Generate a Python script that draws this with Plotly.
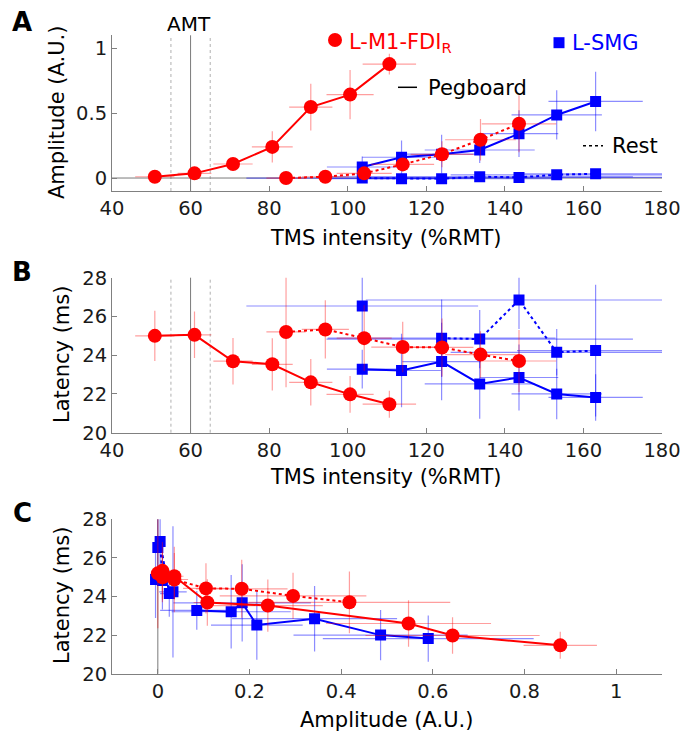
import plotly.graph_objects as go

# ---------------- data ----------------
# L-M1-FDI_R, Pegboard (solid red)
m1_peg_int = [50.9, 61.0, 70.8, 80.8, 90.6, 100.6, 110.6]
m1_peg_int_err = [5.0, 4.3, 5.0, 5.2, 5.5, 6.0, 6.8]
m1_peg_amp = [0.01, 0.036, 0.108, 0.24, 0.547, 0.643, 0.878]
m1_peg_amp_err = [0.02, 0.02, 0.03, 0.12, 0.18, 0.19, 0.08]
m1_peg_lat = [25.0, 25.05, 23.69, 23.53, 22.6, 21.98, 21.47]
m1_peg_lat_err = [1.3, 1.2, 1.2, 1.35, 1.2, 0.95, 0.7]

# L-M1-FDI_R, Rest (dotted red)
m1_rest_int = [84.3, 94.3, 104.2, 114.0, 124.0, 133.8, 143.6]
m1_rest_int_err = [5.0, 6.0, 7.0, 8.0, 8.0, 9.0, 9.5]
m1_rest_amp = [0.0, 0.01, 0.036, 0.105, 0.183, 0.295, 0.418]
m1_rest_amp_err = [0.005, 0.01, 0.03, 0.05, 0.1, 0.16, 0.22]
m1_rest_lat = [25.2, 25.33, 24.88, 24.42, 24.4, 24.03, 23.7]
m1_rest_lat_err = [2.85, 1.5, 1.7, 1.3, 1.5, 1.2, 1.6]

# L-SMG, Pegboard (solid blue)
smg_peg_int = [103.7, 113.7, 123.9, 133.6, 143.6, 153.2, 163.1]
smg_peg_int_err = [9.0, 10.0, 10.0, 14.0, 10.0, 11.5, 12.0]
smg_peg_amp = [0.085, 0.16, 0.184, 0.216, 0.342, 0.486, 0.59]
smg_peg_amp_err = [0.08, 0.13, 0.15, 0.1, 0.18, 0.19, 0.23]
smg_peg_lat = [23.28, 23.21, 23.67, 22.52, 22.85, 22.0, 21.82]
smg_peg_lat_err = [1.0, 1.9, 2.0, 1.8, 1.7, 1.3, 1.2]

# L-SMG, Rest (dotted blue)
smg_rest_int = [103.7, 113.7, 123.9, 133.6, 143.6, 153.2, 163.1]
smg_rest_int_err = [29.5, 10.0, 29.0, 39.0, 39.0, 27.0, 20.0]
smg_rest_amp = [0.0, -0.005, -0.005, 0.01, 0.005, 0.025, 0.033]
smg_rest_amp_err = [0.01, 0.005, 0.005, 0.01, 0.01, 0.02, 0.03]
smg_rest_lat = [26.54, None, 24.88, 24.83, 26.85, 24.15, 24.24]
smg_rest_lat_err = [1.5, 0.0, 2.0, 1.5, 1.5, 1.2, 3.4]

amt_line = 60
amt_band = [55, 65]

x_ticks_int = [40, 60, 80, 100, 120, 140, 160, 180]
y_ticks_amp = [0, 0.5, 1]
y_ticks_amp_text = ["0", "0.5", "1"]
y_ticks_lat = [20, 22, 24, 26, 28]
x_ticks_amp = [0, 0.2, 0.4, 0.6, 0.8, 1]
x_ticks_amp_text = ["0", "0.2", "0.4", "0.6", "0.8", "1"]

# ---------------- figure ----------------
W, H = 683, 736
FONT = "DejaVu Sans"
RED, BLUE = "#ff0000", "#0000ff"
RED_E, BLUE_E = "rgba(255,0,0,0.38)", "rgba(0,0,255,0.45)"
AX = "#808080"


def px(x):
    return x / W


def py(y):
    return 1 - y / H


fig = go.Figure()


def add(x, y, ex, ey, color, ecolor, dash, symbol, size, xa, ya):
    fig.add_trace(go.Scatter(
        x=x, y=y, mode="lines+markers",
        line=dict(color=color, width=2, dash=dash),
        marker=dict(color=color, symbol=symbol, size=size, line=dict(width=0)),
        error_x=dict(type="data", array=ex, color=ecolor, thickness=1.2, width=0),
        error_y=dict(type="data", array=ey, color=ecolor, thickness=1.2, width=0),
        xaxis=xa, yaxis=ya, showlegend=False, connectgaps=False,
        cliponaxis=True))


series = [
    (smg_rest_int, smg_rest_int_err, smg_rest_amp, smg_rest_amp_err, smg_rest_lat, smg_rest_lat_err, BLUE, BLUE_E, "dot", "square", 11),
    (smg_peg_int, smg_peg_int_err, smg_peg_amp, smg_peg_amp_err, smg_peg_lat, smg_peg_lat_err, BLUE, BLUE_E, "solid", "square", 11),
    (m1_rest_int, m1_rest_int_err, m1_rest_amp, m1_rest_amp_err, m1_rest_lat, m1_rest_lat_err, RED, RED_E, "dot", "circle", 14),
    (m1_peg_int, m1_peg_int_err, m1_peg_amp, m1_peg_amp_err, m1_peg_lat, m1_peg_lat_err, RED, RED_E, "solid", "circle", 14),
]

for (xi, xie, amp, ampe, lat, late, c, ec, d, s, sz) in series:
    add(xi, amp, xie, ampe, c, ec, d, s, sz, "x", "y")
    add(xi, lat, xie, late, c, ec, d, s, sz, "x2", "y2")
    add(amp, lat, ampe, late, c, ec, d, s, sz, "x3", "y3")

XD = [px(112), px(662)]
axis_common = dict(showline=True, linecolor=AX, linewidth=1, ticks="inside",
                   ticklen=5, tickcolor=AX, showgrid=False, zeroline=False,
                   automargin=False, tickfont=dict(family=FONT, size=19.5, color="#1a1a1a"))

fig.update_layout(
    width=W, height=H, margin=dict(l=0, r=0, t=0, b=0),
    paper_bgcolor="white", plot_bgcolor="white",
    font=dict(family=FONT, color="black"),
    xaxis=dict(domain=XD, range=[40, 180], tickvals=x_ticks_int, anchor="y", **axis_common),
    yaxis=dict(domain=[py(191), py(35.3)], range=[-0.1, 1.1], tickvals=y_ticks_amp,
               ticktext=y_ticks_amp_text, anchor="x", **axis_common),
    xaxis2=dict(domain=XD, range=[40, 180], tickvals=x_ticks_int, anchor="y2", **axis_common),
    yaxis2=dict(domain=[py(432.7), py(277.7)], range=[20, 28], tickvals=y_ticks_lat, anchor="x2", **axis_common),
    xaxis3=dict(domain=XD, range=[-0.1, 1.1], tickvals=x_ticks_amp, ticktext=x_ticks_amp_text,
                anchor="y3", **axis_common),
    yaxis3=dict(domain=[py(673.7), py(519.3)], range=[20, 28], tickvals=y_ticks_lat, anchor="x3", **axis_common),
)

shapes = []
for xr, yr in (("x", "y domain"), ("x2", "y2 domain")):
    shapes.append(dict(type="line", xref=xr, yref=yr, x0=amt_line, x1=amt_line, y0=0, y1=1,
                       line=dict(color="#7a7a7a", width=1), layer="below"))
    for b in amt_band:
        shapes.append(dict(type="line", xref=xr, yref=yr, x0=b, x1=b, y0=0, y1=1,
                           line=dict(color="#b0b0b0", width=1, dash="dot"), layer="below"))
shapes.append(dict(type="line", xref="x domain", yref="y", x0=0, x1=1, y0=0, y1=0,
                   line=dict(color="#7a7a7a", width=1), layer="below"))
shapes.append(dict(type="line", xref="x3", yref="y3 domain", x0=0, x1=0, y0=0, y1=1,
                   line=dict(color="#7a7a7a", width=1), layer="below"))

# legend marks
shapes.append(dict(type="circle", xref="paper", yref="paper",
                   x0=px(328), x1=px(342), y0=py(47), y1=py(33), fillcolor=RED, line=dict(width=0)))
shapes.append(dict(type="rect", xref="paper", yref="paper",
                   x0=px(553.5), x1=px(564.5), y0=py(48.2), y1=py(37.2), fillcolor=BLUE, line=dict(width=0)))
shapes.append(dict(type="line", xref="paper", yref="paper",
                   x0=px(398), x1=px(417), y0=py(87.3), y1=py(87.3), line=dict(color="black", width=1.5)))
shapes.append(dict(type="line", xref="paper", yref="paper",
                   x0=px(583), x1=px(603), y0=py(145.7), y1=py(145.7), line=dict(color="black", width=1.5, dash="dot")))
fig.update_layout(shapes=shapes)


def ann(text, x, y, size=21, color="black", xanchor="center", yanchor="middle", angle=0, bold=False):
    t = f"<b>{text}</b>" if bold else text
    return dict(text=t, x=px(x), y=py(y), xref="paper", yref="paper", showarrow=False,
                xanchor=xanchor, yanchor=yanchor, textangle=angle,
                font=dict(family=FONT, size=size, color=color))


annotations = [
    ann("Amplitude (A.U.)", 57, 113, angle=-90),
    ann("TMS intensity (%RMT)", 386, 238),
    ann("Latency (ms)", 62, 355, angle=-90),
    ann("TMS intensity (%RMT)", 386, 477),
    ann("Latency (ms)", 62, 596, angle=-90),
    ann("Amplitude (A.U.)", 386, 720),
    ann("AMT", 189, 24, size=20),
    ann("A", 22, 22, size=26, bold=True),
    ann("B", 22, 272, size=26, bold=True),
    ann("C", 22, 513, size=26, bold=True),
    ann("L-M1-FDI<sub>R</sub>", 347, 43, size=21, color=RED, xanchor="left"),
    ann("L-SMG", 570, 43, size=21, color=BLUE, xanchor="left"),
    ann("Pegboard", 426, 88, size=21, xanchor="left"),
    ann("Rest", 610, 146, size=21, xanchor="left"),
]
fig.update_layout(annotations=annotations)

# remove the default page margin so the figure sits at the window's top-left corner
fig.write_html("out.html", config={"displayModeBar": False},
               post_script="document.body.style.margin='0';document.body.style.overflow='hidden';")
